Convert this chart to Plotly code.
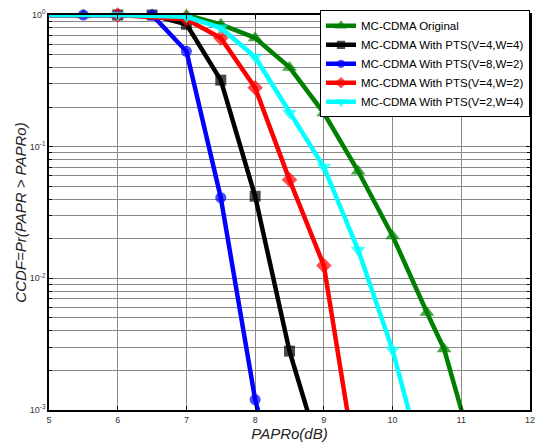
import plotly.graph_objects as go

# ---- data ----
orig_x = [5, 5.5, 6, 6.5, 7, 7.5, 8, 8.5, 9, 9.5, 10, 10.5, 10.75, 11.25]
orig_y = [1, 1, 1, 1, 1, 0.85, 0.67, 0.40, 0.18, 0.065, 0.021, 0.0055, 0.0029, 0.00035]

v4w4_x = [5, 6, 6.5, 7, 7.5, 8, 8.5, 9]
v4w4_y = [1, 1, 1, 0.85, 0.32, 0.042, 0.0028, 0.00038]

v8w2_x = [5, 5.5, 6, 6.5, 7, 7.5, 8, 8.5]
v8w2_y = [1, 1, 1, 1, 0.53, 0.041, 0.0012, 0.00012]

v4w2_x = [5, 6, 7, 7.5, 8, 8.5, 9, 9.5]
v4w2_y = [1, 1, 0.93, 0.67, 0.28, 0.056, 0.0125, 0.0003]

v2w4_x = [5, 6, 7, 7.5, 8, 8.5, 9, 9.5, 10, 10.5]
v2w4_y = [1, 1, 0.97, 0.8, 0.48, 0.18, 0.07, 0.0164, 0.00286, 0.0003]

series_names = ["MC-CDMA Original",
                "MC-CDMA With PTS(V=4,W=4)",
                "MC-CDMA With PTS(V=8,W=2)",
                "MC-CDMA With PTS(V=4,W=2)",
                "MC-CDMA With PTS(V=2,W=4)"]

x_ticks = [5, 6, 7, 8, 9, 10, 11, 12]
y_major = [1, 0.1, 0.01, 0.001]
y_major_text = ["10<sup>0</sup>", "10<sup>-1</sup>", "10<sup>-2</sup>", "10<sup>-3</sup>"]

# ---- styles ----
colors = ["#008000", "#000000", "#0000ff", "#ff0000", "#00ffff"]
symbols = ["triangle-up", "square", "circle", "diamond", "triangle-down"]
msizes = [13, 11, 11, 12, 13]

data = [(orig_x, orig_y), (v4w4_x, v4w4_y), (v8w2_x, v8w2_y),
        (v4w2_x, v4w2_y), (v2w4_x, v2w4_y)]

fig = go.Figure()
for (xs, ys), name, c, s, ms in zip(data, series_names, colors, symbols, msizes):
    sizes = [0 if (x == 5 or y < 1e-3) else ms for x, y in zip(xs, ys)]
    fig.add_trace(go.Scatter(
        x=xs, y=ys, name=name, mode="lines+markers",
        line=dict(color=c, width=4.5),
        marker=dict(symbol=s, size=sizes, color=c, line=dict(width=0)),
        cliponaxis=False,
    ))

minor_vals = [d * k for d in [0.1, 0.01, 0.001] for k in range(2, 10)]

fig.update_layout(
    width=539, height=446,
    margin=dict(l=49, r=9, t=15, b=36),
    paper_bgcolor="white", plot_bgcolor="white",
    font=dict(family="Arial, Liberation Sans, sans-serif", color="#000"),
    showlegend=True,
    legend=dict(x=1, y=1.012, xanchor="right", yanchor="top",
                bgcolor="white", bordercolor="#000", borderwidth=1,
                font=dict(size=11.5, color="#000"),
                tracegroupgap=0, itemwidth=30),
    xaxis=dict(range=[5, 12], tickvals=x_ticks, ticktext=[str(v) for v in x_ticks],
               showgrid=True, gridcolor="#8a8a8a", gridwidth=1,
               showline=True, linecolor="#000", linewidth=1.5, mirror="ticks",
               ticks="inside", ticklen=4, tickcolor="#000",
               tickfont=dict(size=9, color="#333"), zeroline=False, automargin=False,
               title=dict(text="PAPRo(dB)", font=dict(size=15, style="italic", color="#222"),
                          standoff=0)),
    yaxis=dict(type="log", range=[-3, 0], tickvals=y_major, ticktext=y_major_text,
               showgrid=True, gridcolor="#8a8a8a", gridwidth=1,
               showline=True, linecolor="#000", linewidth=1.5, mirror="ticks",
               ticks="inside", ticklen=4, tickcolor="#000",
               minor=dict(tickvals=minor_vals, showgrid=True, gridcolor="#8a8a8a",
                          gridwidth=1, ticks="inside", ticklen=3, tickcolor="#000"),
               tickfont=dict(size=9, color="#333"), zeroline=False, automargin=False,
               title=dict(text="CCDF=Pr(PAPR > PAPRo)",
                          font=dict(size=15, style="italic", color="#222"),
                          standoff=0)),
)

fig.write_html("out.html", config={"displayModeBar": False},
               post_script="document.body.style.margin='0';document.body.style.padding='0';")
